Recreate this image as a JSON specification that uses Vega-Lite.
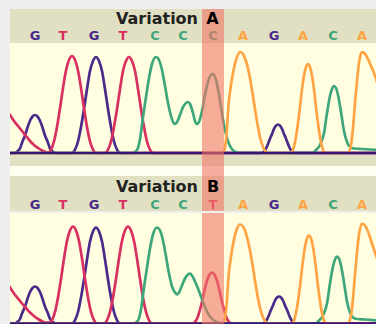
{
  "$schema": "https://vega.github.io/schema/vega-lite/v6.json",
  "background": "#efefef",
  "padding": {"left": 8, "top": 9, "right": 0, "bottom": 0},
  "spacing": 0,
  "config": {"view": {"stroke": null}, "concat": {"spacing": 0}, "scale": {"nice": false, "zero": false}},
  "datasets": {
    "callsA": [
      {"pos": 33, "base": "G"}, {"pos": 61, "base": "T"}, {"pos": 92, "base": "G"}, {"pos": 121, "base": "T"},
      {"pos": 153, "base": "C"}, {"pos": 181, "base": "C"}, {"pos": 211, "base": "C"}, {"pos": 241, "base": "A"},
      {"pos": 272, "base": "G"}, {"pos": 301, "base": "A"}, {"pos": 331, "base": "C"}, {"pos": 360, "base": "A"}
    ],
    "callsB": [
      {"pos": 33, "base": "G"}, {"pos": 61, "base": "T"}, {"pos": 92, "base": "G"}, {"pos": 121, "base": "T"},
      {"pos": 153, "base": "C"}, {"pos": 181, "base": "C"}, {"pos": 211, "base": "T"}, {"pos": 241, "base": "A"},
      {"pos": 272, "base": "G"}, {"pos": 301, "base": "A"}, {"pos": 331, "base": "C"}, {"pos": 360, "base": "A"}
    ],
    "traceA": [
      {"x": 0, "h": 0, "base": "G"}, {"x": 13, "h": 0, "base": "G"}, {"x": 15, "h": 1.3, "base": "G"}, {"x": 18, "h": 4.6, "base": "G"}, {"x": 20, "h": 10.3, "base": "G"}, {"x": 23, "h": 17.5, "base": "G"}, {"x": 25.5, "h": 25.5, "base": "G"}, {"x": 28, "h": 32.3, "base": "G"}, {"x": 30.5, "h": 36.5, "base": "G"}, {"x": 33, "h": 38, "base": "G"}, {"x": 35.5, "h": 36.5, "base": "G"}, {"x": 38, "h": 32.3, "base": "G"}, {"x": 40.5, "h": 25.5, "base": "G"}, {"x": 43, "h": 17.5, "base": "G"}, {"x": 46, "h": 10.3, "base": "G"}, {"x": 48, "h": 4.6, "base": "G"}, {"x": 51, "h": 1.3, "base": "G"}, {"x": 54, "h": 0, "base": "G"},
      {"x": 70, "h": 0, "base": "G"}, {"x": 73, "h": 3.4, "base": "G"}, {"x": 76, "h": 11.5, "base": "G"}, {"x": 79, "h": 26, "base": "G"}, {"x": 82, "h": 44, "base": "G"}, {"x": 85, "h": 64, "base": "G"}, {"x": 88, "h": 82, "base": "G"}, {"x": 91, "h": 92, "base": "G"}, {"x": 94, "h": 96, "base": "G"}, {"x": 97, "h": 92, "base": "G"}, {"x": 100, "h": 82, "base": "G"}, {"x": 103, "h": 64, "base": "G"}, {"x": 106, "h": 44, "base": "G"}, {"x": 109, "h": 26, "base": "G"}, {"x": 112, "h": 11.5, "base": "G"}, {"x": 115, "h": 3.4, "base": "G"}, {"x": 118, "h": 0, "base": "G"},
      {"x": 259, "h": 0, "base": "G"}, {"x": 261.5, "h": 1, "base": "G"}, {"x": 263.5, "h": 3.4, "base": "G"}, {"x": 265.5, "h": 7.7, "base": "G"}, {"x": 267.5, "h": 13.1, "base": "G"}, {"x": 270, "h": 19.1, "base": "G"}, {"x": 272, "h": 24.2, "base": "G"}, {"x": 274, "h": 27.4, "base": "G"}, {"x": 276, "h": 28.5, "base": "G"}, {"x": 278, "h": 27.4, "base": "G"}, {"x": 280, "h": 24.2, "base": "G"}, {"x": 282, "h": 19.1, "base": "G"}, {"x": 284.5, "h": 13.1, "base": "G"}, {"x": 286.5, "h": 7.7, "base": "G"}, {"x": 288.5, "h": 3.4, "base": "G"}, {"x": 290.5, "h": 1, "base": "G"}, {"x": 293, "h": 0, "base": "G"}, {"x": 376, "h": 0, "base": "G"},

      {"x": 0, "h": 50, "base": "T"}, {"x": 4, "h": 44, "base": "T"}, {"x": 8, "h": 38, "base": "T"}, {"x": 12, "h": 32, "base": "T"}, {"x": 16, "h": 27, "base": "T"}, {"x": 20, "h": 22, "base": "T"}, {"x": 24, "h": 17, "base": "T"}, {"x": 28, "h": 12, "base": "T"}, {"x": 32, "h": 8, "base": "T"}, {"x": 36, "h": 5, "base": "T"}, {"x": 40, "h": 2.5, "base": "T"}, {"x": 44, "h": 1, "base": "T"}, {"x": 46, "h": 0.5, "base": "T"},
      {"x": 49, "h": 3.4, "base": "T"}, {"x": 52, "h": 11.6, "base": "T"}, {"x": 55, "h": 26, "base": "T"}, {"x": 58, "h": 44.6, "base": "T"}, {"x": 61, "h": 65, "base": "T"}, {"x": 64, "h": 82.5, "base": "T"}, {"x": 67, "h": 93, "base": "T"}, {"x": 70, "h": 97, "base": "T"}, {"x": 73, "h": 93, "base": "T"}, {"x": 76, "h": 82.5, "base": "T"}, {"x": 79, "h": 65, "base": "T"}, {"x": 82, "h": 44.6, "base": "T"}, {"x": 85, "h": 26, "base": "T"}, {"x": 88, "h": 11.6, "base": "T"}, {"x": 91, "h": 3.4, "base": "T"}, {"x": 94, "h": 0, "base": "T"},
      {"x": 103, "h": 0, "base": "T"}, {"x": 106, "h": 3.4, "base": "T"}, {"x": 109, "h": 11.5, "base": "T"}, {"x": 112, "h": 26, "base": "T"}, {"x": 115, "h": 44, "base": "T"}, {"x": 118, "h": 64, "base": "T"}, {"x": 121, "h": 82, "base": "T"}, {"x": 124, "h": 92, "base": "T"}, {"x": 127, "h": 96, "base": "T"}, {"x": 130, "h": 92, "base": "T"}, {"x": 133, "h": 82, "base": "T"}, {"x": 136, "h": 64, "base": "T"}, {"x": 139, "h": 44, "base": "T"}, {"x": 142, "h": 26, "base": "T"}, {"x": 145, "h": 11.5, "base": "T"}, {"x": 148, "h": 3.4, "base": "T"}, {"x": 151, "h": 0, "base": "T"}, {"x": 376, "h": 0, "base": "T"},

      {"x": 0, "h": 0, "base": "C"}, {"x": 130, "h": 0, "base": "C"}, {"x": 135, "h": 3, "base": "C"}, {"x": 138, "h": 14, "base": "C"}, {"x": 141, "h": 36, "base": "C"}, {"x": 144, "h": 56, "base": "C"}, {"x": 147, "h": 75, "base": "C"}, {"x": 150, "h": 89, "base": "C"}, {"x": 154, "h": 96, "base": "C"}, {"x": 157, "h": 93, "base": "C"}, {"x": 160, "h": 83, "base": "C"}, {"x": 163, "h": 67, "base": "C"}, {"x": 166, "h": 50, "base": "C"}, {"x": 169, "h": 37, "base": "C"}, {"x": 171, "h": 31, "base": "C"}, {"x": 173, "h": 29, "base": "C"}, {"x": 175, "h": 31, "base": "C"}, {"x": 178, "h": 38, "base": "C"}, {"x": 181, "h": 46, "base": "C"}, {"x": 184, "h": 50, "base": "C"}, {"x": 186, "h": 51, "base": "C"}, {"x": 188, "h": 49, "base": "C"}, {"x": 191, "h": 40, "base": "C"}, {"x": 193, "h": 32, "base": "C"}, {"x": 195, "h": 29, "base": "C"}, {"x": 197, "h": 31, "base": "C"}, {"x": 200, "h": 42, "base": "C"}, {"x": 203, "h": 58, "base": "C"}, {"x": 206, "h": 71, "base": "C"}, {"x": 209, "h": 78, "base": "C"}, {"x": 211, "h": 79, "base": "C"}, {"x": 213, "h": 76, "base": "C"}, {"x": 216, "h": 64, "base": "C"}, {"x": 219, "h": 46, "base": "C"}, {"x": 222, "h": 28, "base": "C"}, {"x": 225, "h": 15, "base": "C"}, {"x": 228, "h": 7, "base": "C"}, {"x": 232, "h": 2, "base": "C"}, {"x": 238, "h": 0, "base": "C"},
      {"x": 310, "h": 0, "base": "C"}, {"x": 314, "h": 3, "base": "C"}, {"x": 318, "h": 8, "base": "C"}, {"x": 322, "h": 20, "base": "C"}, {"x": 325, "h": 40, "base": "C"}, {"x": 328, "h": 57, "base": "C"}, {"x": 330, "h": 64, "base": "C"}, {"x": 332, "h": 67, "base": "C"}, {"x": 334, "h": 65, "base": "C"}, {"x": 336, "h": 58, "base": "C"}, {"x": 339, "h": 41, "base": "C"}, {"x": 342, "h": 22, "base": "C"}, {"x": 345, "h": 11, "base": "C"}, {"x": 348, "h": 6, "base": "C"}, {"x": 352, "h": 4.5, "base": "C"}, {"x": 360, "h": 4, "base": "C"}, {"x": 376, "h": 3, "base": "C"},

      {"x": 0, "h": 0, "base": "A"}, {"x": 221, "h": 0, "base": "A"}, {"x": 222.5, "h": 3, "base": "A"}, {"x": 224.5, "h": 18, "base": "A"}, {"x": 226.7, "h": 50, "base": "A"}, {"x": 229, "h": 68, "base": "A"}, {"x": 232, "h": 85, "base": "A"}, {"x": 235, "h": 96, "base": "A"}, {"x": 238, "h": 101, "base": "A"}, {"x": 241, "h": 99, "base": "A"}, {"x": 244, "h": 92, "base": "A"}, {"x": 247, "h": 80, "base": "A"}, {"x": 250, "h": 63, "base": "A"}, {"x": 253, "h": 44, "base": "A"}, {"x": 256, "h": 26, "base": "A"}, {"x": 259, "h": 12, "base": "A"}, {"x": 262, "h": 4, "base": "A"}, {"x": 266, "h": 0, "base": "A"},
      {"x": 289, "h": 0, "base": "A"}, {"x": 291, "h": 3.1, "base": "A"}, {"x": 293, "h": 10.7, "base": "A"}, {"x": 295.2, "h": 24, "base": "A"}, {"x": 297.4, "h": 41, "base": "A"}, {"x": 299.5, "h": 59.6, "base": "A"}, {"x": 301.7, "h": 75.6, "base": "A"}, {"x": 303.8, "h": 85.4, "base": "A"}, {"x": 306, "h": 89, "base": "A"}, {"x": 308.2, "h": 85.4, "base": "A"}, {"x": 310.3, "h": 75.6, "base": "A"}, {"x": 312.5, "h": 59.6, "base": "A"}, {"x": 314.6, "h": 41, "base": "A"}, {"x": 316.8, "h": 24, "base": "A"}, {"x": 319, "h": 10.7, "base": "A"}, {"x": 321, "h": 3.1, "base": "A"}, {"x": 323, "h": 0, "base": "A"},
      {"x": 346, "h": 0, "base": "A"}, {"x": 349, "h": 8, "base": "A"}, {"x": 351, "h": 25, "base": "A"}, {"x": 353, "h": 50, "base": "A"}, {"x": 355, "h": 72, "base": "A"}, {"x": 357, "h": 90, "base": "A"}, {"x": 360, "h": 101, "base": "A"}, {"x": 363, "h": 99, "base": "A"}, {"x": 366, "h": 94, "base": "A"}, {"x": 369, "h": 87, "base": "A"}, {"x": 372, "h": 80, "base": "A"}, {"x": 376, "h": 68, "base": "A"}, {"x": 380, "h": 55, "base": "A"}
    ],
    "traceB": [
      {"x": 0, "h": 0, "base": "G"}, {"x": 13, "h": 0, "base": "G"}, {"x": 15, "h": 1.3, "base": "G"}, {"x": 18, "h": 4.5, "base": "G"}, {"x": 20, "h": 10, "base": "G"}, {"x": 23, "h": 17, "base": "G"}, {"x": 25.5, "h": 24.8, "base": "G"}, {"x": 28, "h": 31.5, "base": "G"}, {"x": 30.5, "h": 35.5, "base": "G"}, {"x": 33, "h": 37, "base": "G"}, {"x": 35.5, "h": 35.5, "base": "G"}, {"x": 38, "h": 31.5, "base": "G"}, {"x": 40.5, "h": 24.8, "base": "G"}, {"x": 43, "h": 17, "base": "G"}, {"x": 46, "h": 10, "base": "G"}, {"x": 48, "h": 4.5, "base": "G"}, {"x": 51, "h": 1.3, "base": "G"}, {"x": 54, "h": 0, "base": "G"},
      {"x": 70, "h": 0, "base": "G"}, {"x": 73, "h": 3.4, "base": "G"}, {"x": 76, "h": 11.5, "base": "G"}, {"x": 79, "h": 26, "base": "G"}, {"x": 82, "h": 44, "base": "G"}, {"x": 85, "h": 64, "base": "G"}, {"x": 88, "h": 82, "base": "G"}, {"x": 91, "h": 92, "base": "G"}, {"x": 94, "h": 96, "base": "G"}, {"x": 97, "h": 92, "base": "G"}, {"x": 100, "h": 82, "base": "G"}, {"x": 103, "h": 64, "base": "G"}, {"x": 106, "h": 44, "base": "G"}, {"x": 109, "h": 26, "base": "G"}, {"x": 112, "h": 11.5, "base": "G"}, {"x": 115, "h": 3.4, "base": "G"}, {"x": 118, "h": 0, "base": "G"},
      {"x": 260, "h": 0, "base": "G"}, {"x": 262.5, "h": 1, "base": "G"}, {"x": 264.5, "h": 3.2, "base": "G"}, {"x": 266.5, "h": 7.3, "base": "G"}, {"x": 268.5, "h": 12.4, "base": "G"}, {"x": 271, "h": 18.1, "base": "G"}, {"x": 273, "h": 23, "base": "G"}, {"x": 275, "h": 26, "base": "G"}, {"x": 277, "h": 27, "base": "G"}, {"x": 279, "h": 26, "base": "G"}, {"x": 281, "h": 23, "base": "G"}, {"x": 283, "h": 18.1, "base": "G"}, {"x": 285.5, "h": 12.4, "base": "G"}, {"x": 287.5, "h": 7.3, "base": "G"}, {"x": 289.5, "h": 3.2, "base": "G"}, {"x": 291.5, "h": 1, "base": "G"}, {"x": 294, "h": 0, "base": "G"}, {"x": 376, "h": 0, "base": "G"},

      {"x": 0, "h": 48, "base": "T"}, {"x": 4, "h": 42, "base": "T"}, {"x": 8, "h": 36, "base": "T"}, {"x": 12, "h": 30, "base": "T"}, {"x": 16, "h": 25, "base": "T"}, {"x": 20, "h": 20, "base": "T"}, {"x": 24, "h": 15.5, "base": "T"}, {"x": 28, "h": 11, "base": "T"}, {"x": 32, "h": 7.5, "base": "T"}, {"x": 36, "h": 4.5, "base": "T"}, {"x": 40, "h": 2.3, "base": "T"}, {"x": 44, "h": 0.8, "base": "T"},
      {"x": 47, "h": 0.8, "base": "T"}, {"x": 50, "h": 3.4, "base": "T"}, {"x": 53, "h": 11.6, "base": "T"}, {"x": 56, "h": 26, "base": "T"}, {"x": 59, "h": 44.6, "base": "T"}, {"x": 62, "h": 65, "base": "T"}, {"x": 65, "h": 82.5, "base": "T"}, {"x": 68, "h": 93, "base": "T"}, {"x": 71, "h": 97, "base": "T"}, {"x": 74, "h": 93, "base": "T"}, {"x": 77, "h": 82.5, "base": "T"}, {"x": 80, "h": 65, "base": "T"}, {"x": 83, "h": 44.6, "base": "T"}, {"x": 86, "h": 26, "base": "T"}, {"x": 89, "h": 11.6, "base": "T"}, {"x": 92, "h": 3.4, "base": "T"}, {"x": 95, "h": 0, "base": "T"},
      {"x": 102, "h": 0, "base": "T"}, {"x": 105, "h": 3.4, "base": "T"}, {"x": 108, "h": 11.6, "base": "T"}, {"x": 111, "h": 26, "base": "T"}, {"x": 114, "h": 44.6, "base": "T"}, {"x": 117, "h": 65, "base": "T"}, {"x": 120, "h": 82.5, "base": "T"}, {"x": 123, "h": 93, "base": "T"}, {"x": 126, "h": 97, "base": "T"}, {"x": 129, "h": 93, "base": "T"}, {"x": 132, "h": 82.5, "base": "T"}, {"x": 135, "h": 65, "base": "T"}, {"x": 138, "h": 44.6, "base": "T"}, {"x": 141, "h": 26, "base": "T"}, {"x": 144, "h": 11.6, "base": "T"}, {"x": 147, "h": 3.4, "base": "T"}, {"x": 150, "h": 0, "base": "T"},
      {"x": 190.8, "h": 0, "base": "T"}, {"x": 193.2, "h": 1.8, "base": "T"}, {"x": 195.6, "h": 6.1, "base": "T"}, {"x": 198, "h": 13.8, "base": "T"}, {"x": 200.4, "h": 23.5, "base": "T"}, {"x": 202.8, "h": 34.2, "base": "T"}, {"x": 205.2, "h": 43.4, "base": "T"}, {"x": 207.6, "h": 49, "base": "T"}, {"x": 210, "h": 51, "base": "T"}, {"x": 212.4, "h": 49, "base": "T"}, {"x": 214.8, "h": 43.4, "base": "T"}, {"x": 217.2, "h": 34.2, "base": "T"}, {"x": 219.6, "h": 23.5, "base": "T"}, {"x": 222, "h": 13.8, "base": "T"}, {"x": 224.4, "h": 6.1, "base": "T"}, {"x": 226.8, "h": 1.8, "base": "T"}, {"x": 229.2, "h": 0, "base": "T"}, {"x": 376, "h": 0, "base": "T"},

      {"x": 0, "h": 0, "base": "C"}, {"x": 131, "h": 0, "base": "C"}, {"x": 136, "h": 3, "base": "C"}, {"x": 139, "h": 14, "base": "C"}, {"x": 142, "h": 36, "base": "C"}, {"x": 145, "h": 56, "base": "C"}, {"x": 148, "h": 75, "base": "C"}, {"x": 151, "h": 89, "base": "C"}, {"x": 155, "h": 96, "base": "C"}, {"x": 158, "h": 93, "base": "C"}, {"x": 161, "h": 83, "base": "C"}, {"x": 164, "h": 67, "base": "C"}, {"x": 167, "h": 50, "base": "C"}, {"x": 170, "h": 37, "base": "C"}, {"x": 173, "h": 31, "base": "C"}, {"x": 175, "h": 29, "base": "C"}, {"x": 177, "h": 31, "base": "C"}, {"x": 180, "h": 38, "base": "C"}, {"x": 183, "h": 45, "base": "C"}, {"x": 186, "h": 49, "base": "C"}, {"x": 188, "h": 50, "base": "C"}, {"x": 190, "h": 48, "base": "C"}, {"x": 193, "h": 42, "base": "C"}, {"x": 196, "h": 35, "base": "C"}, {"x": 199, "h": 27, "base": "C"}, {"x": 202, "h": 19, "base": "C"}, {"x": 205, "h": 12, "base": "C"}, {"x": 208, "h": 7, "base": "C"}, {"x": 212, "h": 3, "base": "C"}, {"x": 218, "h": 0.5, "base": "C"}, {"x": 222, "h": 0, "base": "C"},
      {"x": 313, "h": 0, "base": "C"}, {"x": 317, "h": 3, "base": "C"}, {"x": 321, "h": 8, "base": "C"}, {"x": 325, "h": 20, "base": "C"}, {"x": 328, "h": 40, "base": "C"}, {"x": 331, "h": 57, "base": "C"}, {"x": 333, "h": 64, "base": "C"}, {"x": 335, "h": 67, "base": "C"}, {"x": 337, "h": 65, "base": "C"}, {"x": 339, "h": 58, "base": "C"}, {"x": 342, "h": 41, "base": "C"}, {"x": 345, "h": 22, "base": "C"}, {"x": 348, "h": 11, "base": "C"}, {"x": 351, "h": 6, "base": "C"}, {"x": 355, "h": 4.5, "base": "C"}, {"x": 363, "h": 4, "base": "C"}, {"x": 376, "h": 3, "base": "C"},

      {"x": 0, "h": 0, "base": "A"}, {"x": 221, "h": 0, "base": "A"}, {"x": 222.5, "h": 3, "base": "A"}, {"x": 224.5, "h": 18, "base": "A"}, {"x": 226.7, "h": 49, "base": "A"}, {"x": 229, "h": 67, "base": "A"}, {"x": 232, "h": 84, "base": "A"}, {"x": 235, "h": 95, "base": "A"}, {"x": 238, "h": 99, "base": "A"}, {"x": 241, "h": 97, "base": "A"}, {"x": 244, "h": 90, "base": "A"}, {"x": 247, "h": 78, "base": "A"}, {"x": 250, "h": 62, "base": "A"}, {"x": 253, "h": 43, "base": "A"}, {"x": 256, "h": 25, "base": "A"}, {"x": 259, "h": 12, "base": "A"}, {"x": 262, "h": 4, "base": "A"}, {"x": 266, "h": 0, "base": "A"},
      {"x": 290, "h": 0, "base": "A"}, {"x": 292, "h": 3.1, "base": "A"}, {"x": 294, "h": 10.6, "base": "A"}, {"x": 296.2, "h": 23.8, "base": "A"}, {"x": 298.4, "h": 40.5, "base": "A"}, {"x": 300.5, "h": 59, "base": "A"}, {"x": 302.7, "h": 74.8, "base": "A"}, {"x": 304.8, "h": 84.5, "base": "A"}, {"x": 307, "h": 88, "base": "A"}, {"x": 309.2, "h": 84.5, "base": "A"}, {"x": 311.3, "h": 74.8, "base": "A"}, {"x": 313.5, "h": 59, "base": "A"}, {"x": 315.6, "h": 40.5, "base": "A"}, {"x": 317.8, "h": 23.8, "base": "A"}, {"x": 320, "h": 10.6, "base": "A"}, {"x": 322, "h": 3.1, "base": "A"}, {"x": 324, "h": 0, "base": "A"},
      {"x": 346, "h": 0, "base": "A"}, {"x": 349, "h": 8, "base": "A"}, {"x": 351, "h": 25, "base": "A"}, {"x": 353, "h": 49, "base": "A"}, {"x": 355, "h": 71, "base": "A"}, {"x": 357, "h": 89, "base": "A"}, {"x": 360, "h": 100, "base": "A"}, {"x": 363, "h": 98, "base": "A"}, {"x": 366, "h": 92, "base": "A"}, {"x": 369, "h": 83, "base": "A"}, {"x": 372, "h": 74, "base": "A"}, {"x": 376, "h": 62, "base": "A"}, {"x": 380, "h": 50, "base": "A"}
    ]
  },
  "vconcat": [
    {
      "width": 368, "height": 34,
      "view": {"fill": "#e1e0c2", "stroke": null},
      "layer": [
        {
          "data": {"name": "callsA"},
          "mark": {"type": "text", "font": "DejaVu Sans", "fontSize": 13, "fontWeight": "bold", "baseline": "alphabetic"},
          "encoding": {
            "x": {"field": "pos", "type": "quantitative", "scale": {"domain": [8, 376], "nice": false}, "axis": null},
            "y": {"datum": 3, "scale": {"domain": [0, 34], "nice": false}, "axis": null},
            "text": {"field": "base"},
            "color": {"field": "base", "type": "nominal", "scale": {"domain": ["G", "T", "C", "A"], "range": ["#4a2a8a", "#d83060", "#3ea67b", "#ffa444"]}, "legend": null}
          }
        },
        {
          "data": {"values": [{}]},
          "mark": {"type": "rect", "color": "#f27467", "opacity": 0.6},
          "encoding": {"x": {"datum": 200}, "x2": {"datum": 222}}
        },
        {
          "data": {"values": [{"label": "Variation"}]},
          "mark": {"type": "text", "font": "DejaVu Sans", "fontSize": 16, "fontWeight": "bold", "align": "right", "baseline": "alphabetic", "color": "#222222"},
          "encoding": {"x": {"datum": 196}, "y": {"datum": 18.7}, "text": {"field": "label"}}
        },
        {
          "data": {"values": [{"label": "A"}]},
          "mark": {"type": "text", "font": "DejaVu Sans", "fontSize": 16, "fontWeight": "bold", "align": "center", "baseline": "alphabetic", "color": "#000000"},
          "encoding": {"x": {"datum": 210.5}, "y": {"datum": 18.7}, "text": {"field": "label"}}
        }
      ]
    },
    {
      "width": 368, "height": 112,
      "view": {"fill": "#fffee0", "stroke": null},
      "layer": [
        {
          "data": {"name": "traceA"},
          "mark": {"type": "line", "interpolate": "monotone", "strokeWidth": 2.7, "clip": true},
          "encoding": {
            "x": {"field": "x", "type": "quantitative", "scale": {"domain": [8, 376], "nice": false}, "axis": null},
            "y": {"field": "h", "type": "quantitative", "scale": {"domain": [-2, 110], "nice": false}, "axis": null},
            "color": {"field": "base", "type": "nominal", "scale": {"domain": ["G", "T", "C", "A"], "range": ["#3d1a7c", "#d2124e", "#2e9a68", "#ffa030"]}, "legend": null}
          }
        },
        {
          "data": {"values": [{}]},
          "mark": {"type": "rule", "color": "#3a1472", "strokeWidth": 2.5},
          "encoding": {"y": {"datum": 0}}
        },
        {
          "data": {"values": [{}]},
          "mark": {"type": "rect", "color": "#f27467", "opacity": 0.6},
          "encoding": {"x": {"datum": 200}, "x2": {"datum": 222}}
        }
      ]
    },
    {
      "width": 368, "height": 11,
      "view": {"fill": "#e1e0c2", "stroke": null},
      "data": {"values": [{}]},
      "mark": {"type": "rect", "color": "#f27467", "opacity": 0.6},
      "encoding": {"x": {"datum": 200, "scale": {"domain": [8, 376], "nice": false}, "axis": null}, "x2": {"datum": 222}}
    },
    {
      "width": 368, "height": 10,
      "view": {"fill": "#fffff0", "stroke": null},
      "data": {"values": [{}]},
      "mark": {"type": "rect", "color": "#f27467", "opacity": 0.6},
      "encoding": {"x": {"datum": 200, "scale": {"domain": [8, 376], "nice": false}, "axis": null}, "x2": {"datum": 222}}
    },
    {
      "width": 368, "height": 35,
      "view": {"fill": "#e1e0c2", "stroke": null},
      "layer": [
        {
          "data": {"name": "callsB"},
          "mark": {"type": "text", "font": "DejaVu Sans", "fontSize": 13, "fontWeight": "bold", "baseline": "alphabetic"},
          "encoding": {
            "x": {"field": "pos", "type": "quantitative", "scale": {"domain": [8, 376], "nice": false}, "axis": null},
            "y": {"datum": 1.8, "scale": {"domain": [0, 35], "nice": false}, "axis": null},
            "text": {"field": "base"},
            "color": {"field": "base", "type": "nominal", "scale": {"domain": ["G", "T", "C", "A"], "range": ["#4a2a8a", "#d83060", "#3ea67b", "#ffa444"]}, "legend": null}
          }
        },
        {
          "data": {"values": [{}]},
          "mark": {"type": "rect", "color": "#f27467", "opacity": 0.6},
          "encoding": {"x": {"datum": 200}, "x2": {"datum": 222}}
        },
        {
          "data": {"values": [{"label": "Variation"}]},
          "mark": {"type": "text", "font": "DejaVu Sans", "fontSize": 16, "fontWeight": "bold", "align": "right", "baseline": "alphabetic", "color": "#222222"},
          "encoding": {"x": {"datum": 196}, "y": {"datum": 19.3}, "text": {"field": "label"}}
        },
        {
          "data": {"values": [{"label": "B"}]},
          "mark": {"type": "text", "font": "DejaVu Sans", "fontSize": 16, "fontWeight": "bold", "align": "center", "baseline": "alphabetic", "color": "#000000"},
          "encoding": {"x": {"datum": 211}, "y": {"datum": 19.3}, "text": {"field": "label"}}
        }
      ]
    },
    {
      "width": 368, "height": 113,
      "view": {"fill": "#fffee0", "stroke": null},
      "layer": [
        {
          "data": {"name": "traceB"},
          "mark": {"type": "line", "interpolate": "monotone", "strokeWidth": 2.7, "clip": true},
          "encoding": {
            "x": {"field": "x", "type": "quantitative", "scale": {"domain": [8, 376], "nice": false}, "axis": null},
            "y": {"field": "h", "type": "quantitative", "scale": {"domain": [-2.5, 110.5], "nice": false}, "axis": null},
            "color": {"field": "base", "type": "nominal", "scale": {"domain": ["G", "T", "C", "A"], "range": ["#3d1a7c", "#d2124e", "#2e9a68", "#ffa030"]}, "legend": null}
          }
        },
        {
          "data": {"values": [{}]},
          "mark": {"type": "rule", "color": "#3a1472", "strokeWidth": 2.5},
          "encoding": {"y": {"datum": 0}}
        },
        {
          "data": {"values": [{}]},
          "mark": {"type": "rect", "color": "#f27467", "opacity": 0.6},
          "encoding": {"x": {"datum": 200}, "x2": {"datum": 222}}
        }
      ]
    }
  ]
}
